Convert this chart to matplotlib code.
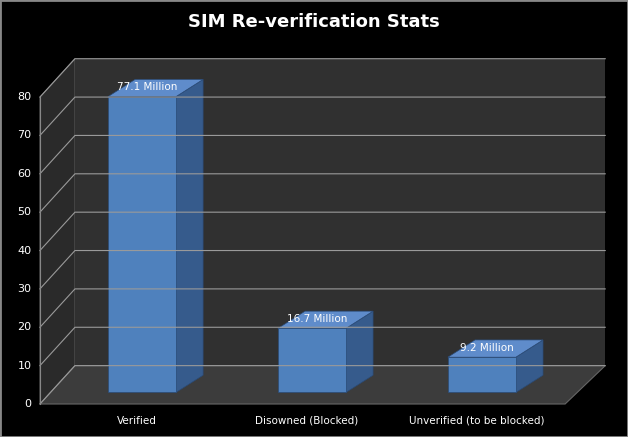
import matplotlib
matplotlib.use("Agg")
import matplotlib.pyplot as plt
from matplotlib.patches import Polygon

categories = ["Verified", "Disowned (Blocked)", "Unverified (to be blocked)"]
values = [77.1, 16.7, 9.2]
labels = ["77.1 Million", "16.7 Million", "9.2 Million"]
yticks = [0, 10, 20, 30, 40, 50, 60, 70, 80]

W, H = 628, 437
fig = plt.figure(figsize=(W/100, H/100), dpi=100, facecolor="black")
ax = fig.add_axes([0, 0, 1, 1])
ax.set_facecolor("black")
ax.set_xlim(-0.835, 2.86)
ax.set_ylim(-8.6, 105.3)
ax.axis("off")

x0, x1 = -0.6, 2.49
dx, dy = 0.206, 10
ax.add_patch(Polygon([(x0, 0), (x0, 80), (x0+dx, 80+dy), (x0+dx, dy)], closed=True, fc="#2a2a2a", ec="#555", lw=0.8))
ax.add_patch(Polygon([(x0+dx, dy), (x0+dx, 80+dy), (x1+dx+0.03, 80+dy), (x1+dx+0.03, dy)], closed=True, fc="#303030", ec="none"))
ax.add_patch(Polygon([(x0, 0), (x1, 0), (x1+dx+0.03, dy), (x0+dx, dy)], closed=True, fc="#3c3c3c", ec="#666", lw=0.8))
for t in yticks:
    ax.plot([x0, x0+dx, x1+dx+0.03], [t, t+dy, t+dy], color="#9a9a9a", lw=0.8)
    ax.text(x0-0.05, t, str(t), color="white", fontsize=8, ha="right", va="center")
ax.plot([x0, x0], [0, 80], color="#888", lw=0.8)

w = 0.2
sx, sy = 0.0, 3
bdx, bdy = 0.16, 4.5
for i, (v, lab, cat) in enumerate(zip(values, labels, categories)):
    l, r = i - w + sx, i + w + sx
    b, t = sy, v + sy
    ax.add_patch(Polygon([(r, b), (r+bdx, b+bdy), (r+bdx, t+bdy), (r, t)], closed=True, fc="#365b8c", ec="#2a4a75", lw=0.5))
    ax.add_patch(Polygon([(l, t), (r, t), (r+bdx, t+bdy), (l+bdx, t+bdy)], closed=True, fc="#5f8ccb", ec="#2a4a75", lw=0.5))
    ax.add_patch(Polygon([(l, b), (r, b), (r, t), (l, t)], closed=True, fc="#4f81bd", ec="#2a4a75", lw=0.5))
    ax.text(i + 0.03, t + 2.5, lab, color="white", fontsize=7.5, ha="center", va="center")
    ax.text(i - 0.03, -4.3, cat, color="white", fontsize=7.5, ha="center", va="center")

fig.text(0.5, 1 - 22/H, "SIM Re-verification Stats", color="white", fontsize=13, fontweight="bold", ha="center", va="center")
ax.add_patch(plt.Rectangle((0, 0), 1, 1, transform=fig.transFigure, fill=False, ec="#888", lw=2))
fig.savefig("out.png", dpi=100, facecolor="black")
